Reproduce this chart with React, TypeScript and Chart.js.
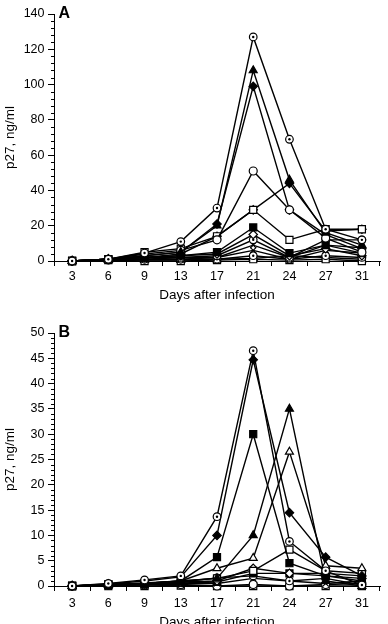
import React, { useEffect, useRef } from 'react';
import { Chart, registerables } from 'chart.js';

Chart.register(...registerables);

// Days after infection (category axis)
const days = ['3', '6', '9', '13', '17', '21', '24', '27', '31'];

// Panel A: p27 antigen, ng/ml, one array per animal
const aDotCircle1 = [0, 1, 4.5, 11, 30, 127, 69, 18, 12];
const aFilledTriangle1 = [0, 1, 3, 5, 20, 108, 46, 16, 9];
const aFilledDiamond1 = [0, 1, 3, 5, 21, 99, 29, 15, 7];
const aOpenCircle1 = [0, 1, 4, 6, 12, 51, 29, 13, 5];
const aFilledDiamond2 = [0, 1, 2, 4, 14, 29, 44, 17, 18];
const aOpenSquare1 = [0, 1, 5, 7, 14, 29, 12, 18, 18];
const aFilledSquare1 = [0, 1, 2, 3, 5, 19, 4.5, 9, 4.5];
const aOpenDiamond1 = [0, 1, 2, 3, 4, 15, 3, 7, 3];
const aDotCircle2 = [0, 1, 2, 2, 3, 12, 2, 12, 12];
const aCross1 = [0, 1, 1, 2, 2, 9, 2, 9, 7.5];
const aCross2 = [0, 0.5, 1, 1, 2, 6, 1, 6, 4.5];
const aDotCircle3 = [0, 0.5, 1, 1, 1, 3, 1, 3, 2];
const aOpenSquare2 = [0, 0.5, 0, 0, 0.5, 1, 0.5, 1, 0];
const aOpenTriangle1 = [0, 0.5, 0.5, 0.5, 1, 1.5, 3, 2, 1];

// Panel B
const bDotCircle1 = [0, 0.5, 1.2, 2, 13.7, 46.5, 8.8, 3, 0.2];
const bFilledDiamond1 = [0, 0.4, 1, 1.8, 10, 44.7, 14.5, 5.7, 2];
const bFilledSquare1 = [0, 0.3, 0.5, 1, 5.7, 30, 4.5, 2, 1];
const bFilledTriangle1 = [0, 0.3, 0.6, 1, 1.5, 10, 35, 1, 0];
const bOpenTriangle1 = [0, 0.3, 0.5, 1, 3.5, 5.5, 26.5, 4, 3.5];
const bOpenSquare1 = [0, 0.3, 0.5, 1, 1.5, 3, 7.2, 3, 2.5];
const bOpenDiamond1 = [0, 0.2, 0.4, 0.8, 1, 3.5, 2.5, 2, 1.5];
const bFilledSquare2 = [0, 0.2, 0.3, 0.6, 0.8, 2.5, 2.5, 2.5, 2];
const bDotCircle2 = [0, 0.2, 0.5, 0.8, 1.6, 2, 1, 1.5, 0.2];
const bCross1 = [0, 0.1, 0.3, 0.5, 0.5, 1.5, 1, 0.5, 1];
const bOpenCircle1 = [0, 0.1, 0.2, 0.3, 0, 0.3, 0, 0.3, 0.5];
const bOpenSquare2 = [0, 0, 0, 0.1, 0, 0, 0, 0, 0];

// Y axis ranges
const aYMax = 140;
const aYStep = 20;
const aYMinor = 4;
const bYMax = 50;
const bYStep = 5;
const bYMinor = 1;

type Marker =
  | 'dot'
  | 'circle'
  | 'square'
  | 'filledSquare'
  | 'triangle'
  | 'filledTriangle'
  | 'diamond'
  | 'filledDiamond'
  | 'cross';

const FONT = '"Liberation Sans", Arial, Helvetica, sans-serif';

function series(data: number[], marker: Marker) {
  const base: any = {
    data,
    borderColor: '#000',
    borderWidth: 1.4,
    pointBorderColor: '#000',
    pointBorderWidth: 1.2,
    pointBackgroundColor: '#fff',
    tension: 0,
    clip: false,
    fill: false,
  };
  switch (marker) {
    case 'dot':
      return { ...base, pointStyle: 'circle', pointRadius: 3.8, centerDot: true };
    case 'circle':
      return { ...base, pointStyle: 'circle', pointRadius: 4 };
    case 'square':
      return { ...base, pointStyle: 'rect', pointRadius: 5 };
    case 'filledSquare':
      return { ...base, pointStyle: 'rect', pointRadius: 5, pointBackgroundColor: '#000' };
    case 'triangle':
      return { ...base, pointStyle: 'triangle', pointRadius: 4.6 };
    case 'filledTriangle':
      return { ...base, pointStyle: 'triangle', pointRadius: 4.6, pointBackgroundColor: '#000' };
    case 'diamond':
      return { ...base, pointStyle: 'rectRot', pointRadius: 4.2 };
    case 'filledDiamond':
      return { ...base, pointStyle: 'rectRot', pointRadius: 4.2, pointBackgroundColor: '#000' };
    case 'cross':
      return { ...base, pointStyle: 'crossRot', pointRadius: 4.2 };
  }
}

// Center dot for the dotted-circle markers, drawn right after its own dataset
const centerDots = {
  id: 'centerDots',
  afterDatasetDraw(chart: any, args: any) {
    const ds = chart.data.datasets[args.index];
    if (!ds.centerDot) return;
    const ctx = chart.ctx;
    ctx.save();
    ctx.fillStyle = '#000';
    for (const pt of args.meta.data) {
      ctx.beginPath();
      ctx.arc(pt.x, pt.y, 1.2, 0, Math.PI * 2);
      ctx.fill();
    }
    ctx.restore();
  },
};

// Short unlabeled ticks between the labelled y values
const minorTicks = {
  id: 'minorTicks',
  afterDraw(chart: any, _args: any, opts: any) {
    const y = chart.scales.y;
    const ctx = chart.ctx;
    const x0 = chart.chartArea.left;
    ctx.save();
    ctx.strokeStyle = '#000';
    ctx.lineWidth = 1;
    for (let v = y.min; v <= y.max + 1e-9; v += opts.step) {
      const r = v / opts.major;
      if (Math.abs(r - Math.round(r)) < 1e-6) continue;
      const py = Math.round(y.getPixelForValue(v)) + 0.5;
      ctx.beginPath();
      ctx.moveTo(x0 - 3, py);
      ctx.lineTo(x0, py);
      ctx.stroke();
    }
    ctx.restore();
  },
};

// Bold panel letter in the upper-left corner of the plot
const panelLetter = {
  id: 'panelLetter',
  afterDraw(chart: any, _args: any, opts: any) {
    const ctx = chart.ctx;
    ctx.save();
    ctx.fillStyle = '#000';
    ctx.font = `bold 16px ${FONT}`;
    ctx.textBaseline = 'alphabetic';
    ctx.fillText(opts.text, chart.chartArea.left + 4.5, chart.chartArea.top + 4);
    ctx.restore();
  },
};

function buildConfig(p: {
  datasets: any[];
  yMax: number;
  yStep: number;
  yMinor: number;
  letter: string;
  topPad: number;
  xHeight: number;
  xTickPad: number;
  xTitlePad: number;
}): any {
  return {
    type: 'line',
    data: { labels: days, datasets: p.datasets },
    plugins: [centerDots, minorTicks, panelLetter],
    options: {
      animation: false,
      responsive: false,
      maintainAspectRatio: false,
      events: [],
      layout: { padding: { left: 0, right: 8, top: p.topPad, bottom: 0 } },
      plugins: {
        legend: { display: false },
        tooltip: { enabled: false },
        minorTicks: { step: p.yMinor, major: p.yStep },
        panelLetter: { text: p.letter },
      },
      scales: {
        x: {
          type: 'category',
          offset: true,
          grid: {
            offset: true,
            drawOnChartArea: false,
            drawTicks: true,
            tickLength: 5,
            color: '#000',
            lineWidth: 1,
          },
          border: { display: true, color: '#000', width: 1 },
          ticks: {
            color: '#000',
            font: { family: FONT, size: 12.5 },
            padding: p.xTickPad,
            maxRotation: 0,
            autoSkip: false,
          },
          title: {
            display: true,
            text: 'Days after infection',
            color: '#000',
            font: { family: FONT, size: 13.5 },
            padding: { top: 0, bottom: p.xTitlePad },
          },
          afterFit: (s: any) => {
            s.height = p.xHeight;
          },
        },
        y: {
          min: 0,
          max: p.yMax,
          grid: {
            drawOnChartArea: false,
            drawTicks: true,
            tickLength: 6,
            color: '#000',
            lineWidth: 1,
          },
          border: { display: true, color: '#000', width: 1 },
          ticks: {
            stepSize: p.yStep,
            color: '#000',
            font: { family: FONT, size: 12.5 },
            padding: 3.5,
          },
          title: {
            display: true,
            text: 'p27, ng/ml',
            color: '#000',
            font: { family: FONT, size: 13.5 },
            padding: { top: 2, bottom: 0 },
          },
          afterFit: (s: any) => {
            s.width = 54;
          },
        },
      },
    },
  };
}

export default function App() {
  const refA = useRef<HTMLCanvasElement>(null);
  const refB = useRef<HTMLCanvasElement>(null);

  useEffect(() => {
    Chart.defaults.font.family = FONT;
    Chart.defaults.color = '#000';

    // Earlier datasets are painted on top of later ones
    const datasetsA = [
      series(aDotCircle1, 'dot'),
      series(aFilledTriangle1, 'filledTriangle'),
      series(aOpenCircle1, 'circle'),
      series(aFilledDiamond1, 'filledDiamond'),
      series(aOpenSquare1, 'square'),
      series(aFilledDiamond2, 'filledDiamond'),
      series(aFilledSquare1, 'filledSquare'),
      series(aOpenDiamond1, 'diamond'),
      series(aDotCircle2, 'dot'),
      series(aCross1, 'cross'),
      series(aCross2, 'cross'),
      series(aDotCircle3, 'dot'),
      series(aOpenSquare2, 'square'),
      series(aOpenTriangle1, 'triangle'),
    ];

    const datasetsB = [
      series(bDotCircle1, 'dot'),
      series(bFilledDiamond1, 'filledDiamond'),
      series(bFilledSquare1, 'filledSquare'),
      series(bFilledTriangle1, 'filledTriangle'),
      series(bOpenTriangle1, 'triangle'),
      series(bOpenSquare1, 'square'),
      series(bOpenDiamond1, 'diamond'),
      series(bFilledSquare2, 'filledSquare'),
      series(bDotCircle2, 'dot'),
      series(bCross1, 'cross'),
      series(bOpenCircle1, 'circle'),
      series(bOpenSquare2, 'square'),
    ];

    const chartA = new Chart(
      refA.current!,
      buildConfig({
        datasets: datasetsA,
        yMax: aYMax,
        yStep: aYStep,
        yMinor: aYMinor,
        letter: 'A',
        topPad: 14,
        xHeight: 51,
        xTickPad: 3.5,
        xTitlePad: 9,
      })
    );
    const chartB = new Chart(
      refB.current!,
      buildConfig({
        datasets: datasetsB,
        yMax: bYMax,
        yStep: bYStep,
        yMinor: bYMinor,
        letter: 'B',
        topPad: 21,
        xHeight: 56,
        xTickPad: 5.5,
        xTitlePad: 12,
      })
    );
    return () => {
      chartA.destroy();
      chartB.destroy();
    };
  }, []);

  return (
    <div
      style={{
        position: 'fixed',
        left: 0,
        top: 0,
        width: 388,
        height: 624,
        overflow: 'hidden',
        background: '#fff',
      }}
    >
      <canvas ref={refA} width={388} height={312} style={{ position: 'absolute', left: 0, top: 0 }} />
      <canvas ref={refB} width={388} height={330} style={{ position: 'absolute', left: 0, top: 312 }} />
    </div>
  );
}
